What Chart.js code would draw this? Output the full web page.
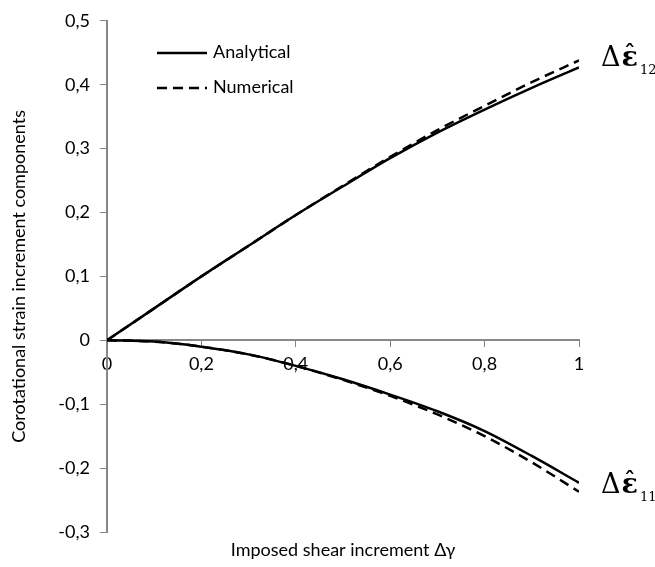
<!DOCTYPE html>
<html>
<head>
<meta charset="utf-8">
<script src="https://cdn.jsdelivr.net/npm/chart.js@4.4.1/dist/chart.umd.min.js"></script>
<style>
  html, body { margin: 0; padding: 0; background: #fff; }
  #wrap { width: 655px; height: 567px; }
</style>
</head>
<body>
<div id="wrap"><canvas id="myChart"></canvas></div>
<script>
const gamma = [0, 0.1, 0.2, 0.3, 0.4, 0.5, 0.6, 0.7, 0.8, 0.9, 1]
const analytical12 = [0, 0.05, 0.1, 0.148, 0.196, 0.241, 0.285, 0.325, 0.361, 0.395, 0.427]
const numerical12 = [0, 0.05, 0.1, 0.148, 0.196, 0.242, 0.287, 0.329, 0.367, 0.404, 0.438]
const analytical11 = [0, -0.002, -0.01, -0.022, -0.04, -0.061, -0.085, -0.111, -0.142, -0.181, -0.223]
const numerical11 = [0, -0.002, -0.01, -0.022, -0.04, -0.062, -0.087, -0.116, -0.15, -0.191, -0.237]
const xTicks = [0, 0.2, 0.4, 0.6, 0.8, 1]
const yTicks = [-0.3, -0.2, -0.1, 0, 0.1, 0.2, 0.3, 0.4, 0.5]

const FONT = 'Lato, "Liberation Sans", sans-serif'
const comma = v => v === 0 ? '0' : String(Math.round(v * 10) / 10).replace('.', ',')
const pts = vals => vals.map((v, i) => ({ x: gamma[i], y: v }))

const solid = { borderColor: '#000', borderWidth: 2.5, pointRadius: 0, fill: false, cubicInterpolationMode: 'monotone' }
const dashed = { ...solid, borderDash: [10, 6] }

// legend + curve labels drawn inside the plot
const annotations = {
  id: 'annotations',
  afterDraw(chart) {
    const c = chart.ctx
    c.save()
    c.strokeStyle = '#000'
    c.lineWidth = 2.5
    c.beginPath(); c.moveTo(157, 53); c.lineTo(207, 53); c.stroke()
    c.setLineDash([10, 6])
    c.beginPath(); c.moveTo(157, 88); c.lineTo(207, 88); c.stroke()
    c.setLineDash([])
    c.fillStyle = '#000'
    c.font = '18px ' + FONT
    c.textBaseline = 'middle'
    c.fillText('Analytical', 213, 52)
    c.fillText('Numerical', 213, 87)

    const label = (x, y, sub) => {
      c.textBaseline = 'alphabetic'
      c.font = '27px "DejaVu Serif", serif'
      c.fillText('Δ', x, y)
      const w = c.measureText('Δ').width
      c.font = 'bold 27px "DejaVu Serif", serif'
      c.fillText('ε', x + w + 1, y)
      const we = c.measureText('ε').width
      c.font = 'bold 22px "DejaVu Serif", serif'
      c.textAlign = 'center'
      c.fillText('ˆ', x + w + 1 + we / 2, y - 5)
      c.textAlign = 'left'
      c.font = '13px "DejaVu Serif", serif'
      c.fillText(sub, x + w + we + 3, y + 8)
    }
    label(601, 66, '12')
    label(601, 493, '11')
    c.restore()
  }
}

new Chart(document.getElementById('myChart'), {
  type: 'line',
  data: {
    datasets: [
      { label: 'Analytical 12', data: pts(analytical12), ...solid },
      { label: 'Numerical 12', data: pts(numerical12), ...dashed },
      { label: 'Analytical 11', data: pts(analytical11), ...solid },
      { label: 'Numerical 11', data: pts(numerical11), ...dashed }
    ]
  },
  options: {
    responsive: true,
    maintainAspectRatio: false,
    animation: false,
    layout: { padding: { top: 15, right: 76, left: 0, bottom: 0 } },
    plugins: {
      legend: { display: false },
      tooltip: { enabled: false }
    },
    scales: {
      x: {
        type: 'linear',
        position: { y: 0 },
        min: 0, max: 1,
        afterBuildTicks: s => { s.ticks = xTicks.map(v => ({ value: v })) },
        ticks: { callback: comma, color: '#000', padding: 7, maxRotation: 0, font: { family: FONT, size: 18 } },
        grid: { drawOnChartArea: false, drawTicks: true, tickLength: 6, color: '#878787' },
        border: { color: '#878787', width: 2 }
      },
      xTitle: {
        type: 'linear',
        position: 'bottom',
        min: 0, max: 1,
        afterFit: s => { s.height = 35 },
        ticks: { display: false },
        grid: { display: false },
        border: { display: false },
        title: {
          display: true,
          text: 'Imposed shear increment Δγ',
          color: '#000',
          font: { family: FONT, size: 18 },
          padding: { top: 6, bottom: 6 }
        }
      },
      y: {
        type: 'linear',
        min: -0.3, max: 0.5,
        afterBuildTicks: s => { s.ticks = yTicks.map(v => ({ value: v })) },
        afterFit: s => { s.width = 107 },
        ticks: { callback: comma, color: '#000', padding: 10, font: { family: FONT, size: 18 } },
        grid: { drawOnChartArea: false, drawTicks: true, tickLength: 7, color: '#878787' },
        border: { color: '#878787', width: 2 },
        title: {
          display: true,
          text: 'Corotational strain increment components',
          color: '#000',
          font: { family: FONT, size: 18 },
          padding: { top: 8, bottom: 0 }
        }
      }
    }
  },
  plugins: [annotations]
})
</script>
</body>
</html>
